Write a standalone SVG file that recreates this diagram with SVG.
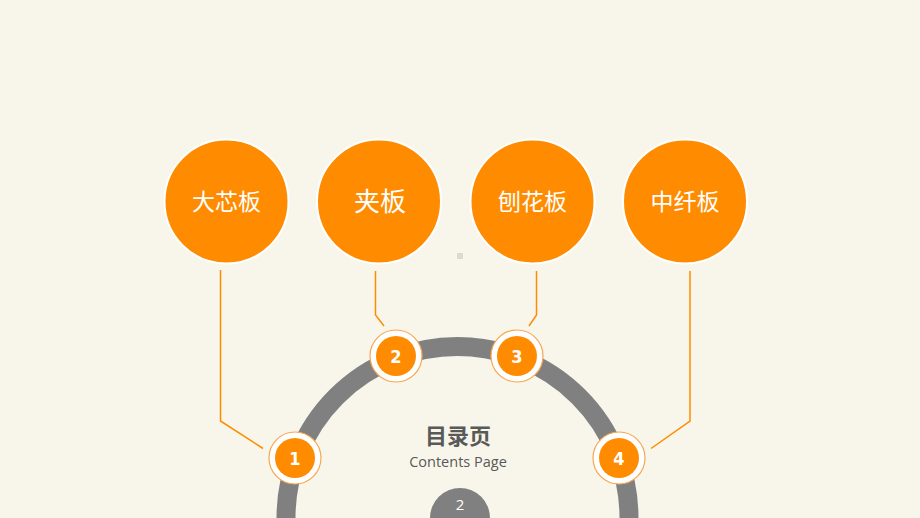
<svg xmlns="http://www.w3.org/2000/svg" width="920" height="518" viewBox="0 0 920 518">
<style>
.big{fill:#FF8C00;stroke:#ffffff;stroke-width:2}
.bt{fill:#ffffff;font-family:"Noto Sans CJK SC","Noto Sans",sans-serif;font-size:23px;text-anchor:middle}
.ring{fill:#ffffff;stroke:#F9A64C;stroke-width:1.2}
.dot{fill:#FF8C00}
.num{fill:#ffffff;font-family:"DejaVu Sans Condensed","Liberation Sans",sans-serif;font-weight:bold;font-size:18px;text-anchor:middle}
.conn{fill:none;stroke:#FF8C00;stroke-width:1.5}
</style>
<rect width="920" height="518" fill="#F8F6EA"/>
<rect x="457" y="253" width="6" height="6" fill="#DCDBCF"/>
<circle cx="457.5" cy="518" r="171.5" fill="none" stroke="#808080" stroke-width="19"/>
<g id="connectors">
<polyline class="conn" points="220.5,270 220.5,421 263,448.5"/>
<polyline class="conn" points="375.5,271 375.5,315 384,326"/>
<polyline class="conn" points="536.5,271 536.5,315 529,326"/>
<polyline class="conn" points="690,271 690,421 651,448.5"/>
</g>
<g id="n1"><circle class="big" cx="226.5" cy="201.5" r="62"/><text class="bt" x="226.5" y="210">大芯板</text></g>
<g id="n2"><circle class="big" cx="379" cy="201.5" r="62"/><text class="bt" x="380" y="211" style="font-size:26px">夹板</text></g>
<g id="n3"><circle class="big" cx="532.5" cy="201.5" r="62"/><text class="bt" x="532.5" y="210">刨花板</text></g>
<g id="n4"><circle class="big" cx="685" cy="201.5" r="62"/><text class="bt" x="685" y="210">中纤板</text></g>
<g id="s1"><circle class="ring" cx="295" cy="458" r="26"/><circle class="dot" cx="295" cy="458" r="20"/><text class="num" x="295" y="464.5">1</text></g>
<g id="s2"><circle class="ring" cx="396" cy="356" r="26"/><circle class="dot" cx="396" cy="356" r="20"/><text class="num" x="396" y="362.5">2</text></g>
<g id="s3"><circle class="ring" cx="517" cy="356" r="26"/><circle class="dot" cx="517" cy="356" r="20"/><text class="num" x="517" y="362.5">3</text></g>
<g id="s4"><circle class="ring" cx="619" cy="458" r="26"/><circle class="dot" cx="619" cy="458" r="20"/><text class="num" x="619" y="464.5">4</text></g>
<g id="title">
<text x="458" y="444" fill="#595959" font-family="Noto Sans CJK SC,sans-serif" font-weight="bold" font-size="22" text-anchor="middle">目录页</text>
<text x="458" y="467" fill="#595959" font-family="Open Sans,sans-serif" font-size="14.5" text-anchor="middle">Contents Page</text>
</g>
<g id="page">
<path d="M430,518 A30,30 0 0 1 490,518 Z" fill="#808080"/>
<text x="460" y="510" fill="#ffffff" font-family="Open Sans,sans-serif" font-size="15" text-anchor="middle">2</text>
</g>
</svg>
